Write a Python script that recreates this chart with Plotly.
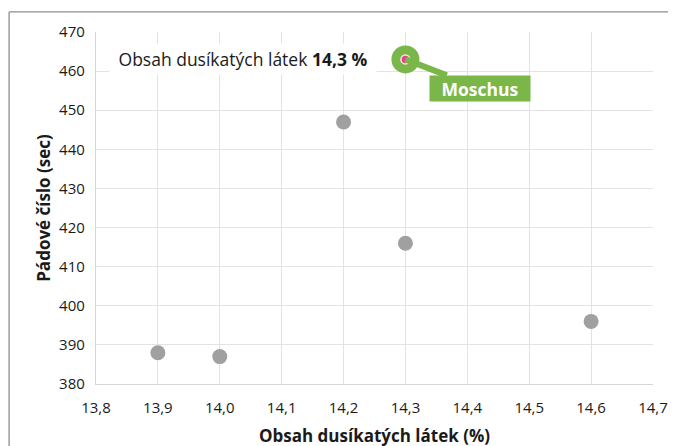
import plotly.graph_objects as go

# Data
x_vals = [13.9, 14.0, 14.2, 14.3, 14.6]
y_vals = [388, 387, 447, 416, 396]
hl_x = [14.3]
hl_y = [463]
hl_name = "Moschus"
x_ticks = [13.8, 13.9, 14.0, 14.1, 14.2, 14.3, 14.4, 14.5, 14.6, 14.7]
x_tick_text = ["13,8", "13,9", "14,0", "14,1", "14,2", "14,3", "14,4", "14,5", "14,6", "14,7"]
y_ticks = [380, 390, 400, 410, 420, 430, 440, 450, 460, 470]

FONT = "Open Sans"
grid = "#e3e3e3"
txt = "#1a1a1a"

fig = go.Figure()
fig.add_trace(go.Scatter(x=x_vals, y=y_vals, mode="markers",
                         marker=dict(size=15, color="#a0a0a0"), showlegend=False))
fig.add_trace(go.Scatter(x=hl_x, y=hl_y, mode="markers",
                         marker=dict(size=28, color="#7ab648"), showlegend=False))
fig.add_trace(go.Scatter(x=hl_x, y=hl_y, mode="markers",
                         marker=dict(size=9, color="#e8408a", line=dict(color="#fbe3ee", width=1.5)),
                         showlegend=False))

fig.add_annotation(x=hl_x[0], y=hl_y[0], xref="x", yref="y",
                   text="Obsah dusíkatých látek <b>14,3 %</b>",
                   showarrow=False, xanchor="right", yanchor="middle",
                   xshift=-28, yshift=0, bgcolor="white", borderpad=0,
                   width=266, height=30,
                   font=dict(family=FONT, size=17.5, color=txt))
fig.add_annotation(x=hl_x[0], y=hl_y[0], xref="x", yref="y",
                   text="<b>%s</b>" % hl_name, showarrow=True,
                   ax=75, ay=29, arrowhead=0, arrowwidth=6, arrowcolor="#7ab648",
                   bgcolor="#7ab648", borderpad=0, standoff=0, width=100, height=25,
                   font=dict(family=FONT, size=17.5, color="white"))

fig.add_shape(type="line", xref="paper", yref="paper", x0=-0.156, x1=1.2, y0=1.057, y1=1.057,
              line=dict(color="#8c8c8c", width=1.3))
fig.add_shape(type="line", xref="paper", yref="paper", x0=-0.156, x1=-0.156, y0=1.057, y1=-0.3,
              line=dict(color="#8c8c8c", width=1.3))

fig.update_xaxes(range=[13.8, 14.7], tickvals=x_ticks, ticktext=x_tick_text,
                 showgrid=True, gridcolor=grid, gridwidth=1.3,
                 showline=True, linecolor="#d6d6d6", linewidth=1.3, zeroline=False,
                 ticks="", ticklabelstandoff=10,
                 tickfont=dict(family=FONT, size=15, color=txt),
                 title=dict(text="<b>Obsah dusíkatých látek (%)</b>", standoff=13,
                            font=dict(family=FONT, size=17, color=txt)))
fig.update_yaxes(range=[380, 470], tickvals=y_ticks,
                 showgrid=True, gridcolor=grid, gridwidth=1.3,
                 showline=True, linecolor="#d6d6d6", linewidth=1.3, zeroline=False,
                 ticks="", ticklabelstandoff=7,
                 tickfont=dict(family=FONT, size=15, color=txt),
                 title=dict(text="<b>Pádové číslo (sec)</b>", standoff=4,
                            font=dict(family=FONT, size=17, color=txt)))

fig.update_layout(width=676, height=446, plot_bgcolor="white", paper_bgcolor="white",
                  margin=dict(l=88, r=31, t=24, b=70))
fig.write_html("out.html")
